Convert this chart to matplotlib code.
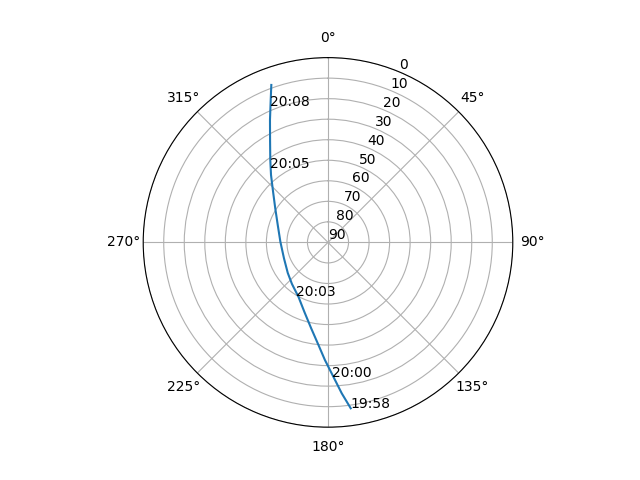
import numpy as np
import matplotlib
matplotlib.use("Agg")
import matplotlib.pyplot as plt

# satellite pass track, azimuth (deg) and elevation (deg), in time order
azimuth = [172.2, 174.8, 177.7, 181.5, 185.3, 191.2, 198.7, 208.4, 220.9, 232.8,
           250.1, 270.8, 289.1, 302.9, 312.7, 319.8, 325.0, 330.5, 334.65, 338.1,
           340.2]
elevation = [8.45, 16.2, 24.5, 32.7, 39.8, 47.5, 54.2, 59.8, 63.2, 65.4,
             67.2, 66.8, 64.1, 59.4, 53.6, 47.0, 41.0, 32.7, 24.0, 15.2,
             8.5]

# time labels along the track
label_times = ["19:58", "20:00", "20:03", "20:05", "20:08"]
label_az = [172.2, 178.2, 210.5, 321.8, 337.0]
label_el = [8.6, 24.5, 59.7, 44.1, 17.9]

fig = plt.figure(figsize=(6.4, 4.8), dpi=100)
ax = fig.add_subplot(111, projection="polar")
ax.set_theta_zero_location("N")
ax.set_theta_direction(-1)

ax.plot(np.radians(azimuth), elevation)
for t, a, e in zip(label_times, label_az, label_el):
    ax.text(np.radians(a), e, t)

ax.set_yticks(range(0, 91, 10))
ax.set_ylim(90, 0)

fig.savefig("out.png")
